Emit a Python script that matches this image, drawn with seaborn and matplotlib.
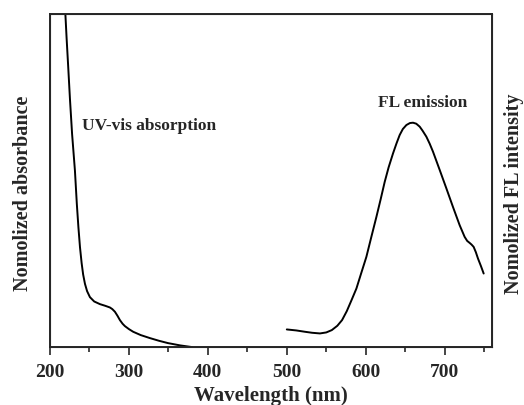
import matplotlib
matplotlib.use("Agg")
import matplotlib.pyplot as plt
import pandas as pd
import seaborn as sns

# absorbance spectrum (normalised)
abs_wavelength = [218, 219.5, 221, 223, 225.3, 228, 231.6, 234, 236, 238, 240.1, 242, 244.3, 247,
                  250.6, 256, 263.3, 270, 275.9, 279, 282.3, 285.5, 288.6, 292, 294.9, 300,
                  305.4, 315, 326.6, 338, 349.4, 365, 380]
abs_value = [1.03, 1.0, 0.93, 0.845, 0.745, 0.64, 0.53, 0.43, 0.36, 0.3, 0.252, 0.218, 0.19, 0.168,
             0.15, 0.137, 0.129, 0.124, 0.119, 0.114, 0.106, 0.094, 0.081, 0.07, 0.063, 0.054,
             0.046, 0.036, 0.027, 0.019, 0.012, 0.005, 0.0]

# fluorescence emission spectrum
fl_wavelength = [500, 512, 523, 532, 542, 550, 557, 564, 570, 576, 582, 588.2, 594, 600.8, 607,
                 613.5, 619, 624, 629, 634.6, 639, 643, 647, 651.5, 656, 659.9, 664, 668.4, 672,
                 676.8, 681, 685.2, 693.7, 702.1, 710.5, 719, 725.3, 728.5, 731.6, 734, 736.7,
                 739.5, 742.2, 746, 749.4]
fl_value = [0.053, 0.05, 0.046, 0.043, 0.041, 0.044, 0.051, 0.064, 0.081, 0.108, 0.141, 0.176,
            0.22, 0.271, 0.33, 0.391, 0.445, 0.496, 0.54, 0.582, 0.612, 0.637, 0.655, 0.667,
            0.673, 0.674, 0.671, 0.662, 0.65, 0.632, 0.611, 0.587, 0.532, 0.477, 0.421, 0.366,
            0.331, 0.319, 0.313, 0.308, 0.301, 0.285, 0.266, 0.243, 0.221]

x_ticks = [200, 300, 400, 500, 600, 700]

sns.set_style("ticks")
plt.rcParams['font.family'] = ['Liberation Serif', 'DejaVu Serif']
plt.rcParams['font.weight'] = 'bold'

abs_df = pd.DataFrame({"wavelength": abs_wavelength, "value": abs_value})
fl_df = pd.DataFrame({"wavelength": fl_wavelength, "value": fl_value})

fig = plt.figure(figsize=(5.24, 4.05), dpi=100)
ax = fig.add_axes([0.0954, 0.143, 0.8436, 0.822])

sns.lineplot(data=abs_df, x="wavelength", y="value", ax=ax, color="black", linewidth=1.4, sort=False)
sns.lineplot(data=fl_df, x="wavelength", y="value", ax=ax, color="black", linewidth=1.4, sort=False)

ax.set_xlim(200, 760)
ax.set_ylim(0, 1)
ax.set_xticks(x_ticks)
ax.set_xticks(range(250, 760, 100), minor=True)
ax.set_yticks([])
ax.tick_params(axis="x", which="major", length=6, width=1.2, labelsize=14, pad=6)
ax.tick_params(axis="x", which="minor", length=3.5, width=1.2)
for lbl in ax.get_xticklabels():
    lbl.set_fontweight("bold")
for s in ax.spines.values():
    s.set_linewidth(1.4)

ax.set_xlabel("Wavelength (nm)", fontsize=15, fontweight="bold", labelpad=4)
ax.set_ylabel("Nomolized absorbance", fontsize=14.5, fontweight="bold")
ax.yaxis.set_label_coords(-0.038, 0.462)

ax2 = ax.twinx()
ax2.set_yticks([])
ax2.set_ylabel("Nomolized FL intensity", fontsize=14.5, fontweight="bold")
ax2.yaxis.set_label_coords(1.027, 0.462)

ax.text(240, 0.664, "UV-vis absorption", fontsize=12.5, fontweight="bold", ha="left", va="center")
ax.text(672, 0.733, "FL emission", fontsize=12.5, fontweight="bold", ha="center", va="center")

fig.savefig("out.png", dpi=100)
